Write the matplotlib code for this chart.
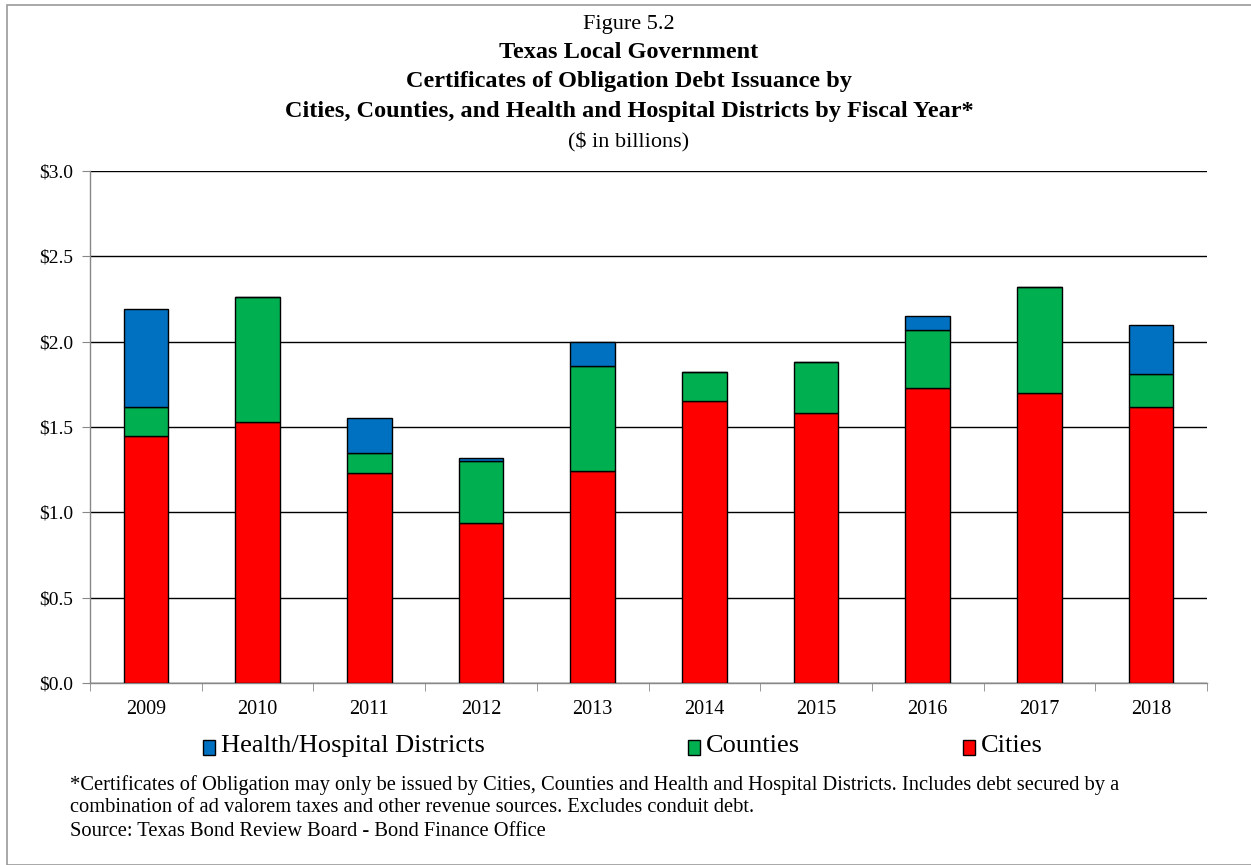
import matplotlib
matplotlib.use("Agg")
import matplotlib.pyplot as plt
from matplotlib.patches import Rectangle
import numpy as np

# fiscal years and issuance by issuer type ($ billions)
years = ["2009", "2010", "2011", "2012", "2013", "2014", "2015", "2016", "2017", "2018"]
cities = [1.45, 1.53, 1.23, 0.94, 1.24, 1.65, 1.58, 1.73, 1.70, 1.62]
counties = [0.17, 0.73, 0.12, 0.36, 0.62, 0.17, 0.30, 0.34, 0.62, 0.19]
health = [0.57, 0.00, 0.20, 0.02, 0.14, 0.00, 0.00, 0.08, 0.00, 0.29]

yticks = [0.0, 0.5, 1.0, 1.5, 2.0, 2.5, 3.0]

RED = "#FF0000"
GREEN = "#00B050"
BLUE = "#0070C0"

plt.rcParams["font.family"] = ["Liberation Serif", "DejaVu Serif"]

W, H = 1251, 865
fig = plt.figure(figsize=(W / 100, H / 100), dpi=100)
ax = fig.add_axes([90 / W, 1 - 683 / H, (1207 - 90) / W, (683 - 171) / H])


def fx(px):
    return px / W


def fy(py):
    return 1 - py / H


x = np.arange(len(years))
w = 0.40
cities = np.array(cities)
counties = np.array(counties)
health = np.array(health)

ax.bar(x, cities, w, color=RED, edgecolor="black", linewidth=1.0, zorder=3)
ax.bar(x, counties, w, bottom=cities, color=GREEN, edgecolor="black", linewidth=1.0, zorder=3)
ax.bar(x, health, w, bottom=cities + counties, color=BLUE, edgecolor="black", linewidth=1.0, zorder=3)

ax.set_xlim(-0.5, len(years) - 0.5)
ax.set_ylim(0, 3.0)
ax.set_yticks(yticks)
ax.set_yticklabels(["$%.1f" % v for v in yticks], fontsize=14)
ax.yaxis.grid(True, color="black", linewidth=1.0, zorder=0)
ax.set_axisbelow(True)

# year labels centred under bars, tick marks between categories
ax.set_xticks(x)
ax.set_xticklabels(years, fontsize=14.5)
ax.tick_params(axis="x", length=0, pad=12)
ax.set_xticks(np.arange(-0.5, len(years)), minor=True)
ax.tick_params(axis="x", which="minor", length=6, color="#888888", direction="out")
ax.tick_params(axis="y", length=6, color="#888888", direction="out", pad=6)

for s in ["top", "right"]:
    ax.spines[s].set_visible(False)
for s in ["left", "bottom"]:
    ax.spines[s].set_color("#888888")
    ax.spines[s].set_linewidth(1.0)

# titles
cx = fx(629)
fig.text(cx, fy(24), "Figure 5.2", ha="center", va="center", fontsize=16)
fig.text(cx, fy(53), "Texas Local Government", ha="center", va="center", fontsize=17.5, fontweight="bold")
fig.text(cx, fy(82), "Certificates of Obligation Debt Issuance by", ha="center", va="center",
         fontsize=17.5, fontweight="bold")
fig.text(cx, fy(111), "Cities, Counties, and Health and Hospital Districts by Fiscal Year*",
         ha="center", va="center", fontsize=17.5, fontweight="bold")
fig.text(cx, fy(142), "($ in billions)", ha="center", va="center", fontsize=16)

# legend entries
legend_items = [("Health/Hospital Districts", BLUE, 203), ("Counties", GREEN, 688), ("Cities", RED, 963)]
for label, col, px in legend_items:
    fig.patches.append(Rectangle((fx(px), fy(755)), 12 / W, 15 / H,
                                 transform=fig.transFigure, facecolor=col, edgecolor="black",
                                 linewidth=1.0))
    fig.text(fx(px + 18), fy(746), label, ha="left", va="center", fontsize=19)

# footnotes
fig.text(fx(70), fy(785),
         "*Certificates of Obligation may only be issued by Cities, Counties and Health and Hospital Districts. "
         "Includes debt secured by a",
         ha="left", va="center", fontsize=14.8)
fig.text(fx(70), fy(808),
         "combination of ad valorem taxes and other revenue sources. Excludes conduit debt.",
         ha="left", va="center", fontsize=14.8)
fig.text(fx(70), fy(831), "Source: Texas Bond Review Board - Bond Finance Office",
         ha="left", va="center", fontsize=14.8)

# outer frame
fig.patches.append(Rectangle((fx(7), 0), 1.2, fy(5), transform=fig.transFigure,
                             fill=False, edgecolor="#999999", linewidth=1.2))

fig.savefig("out.png", dpi=100)
